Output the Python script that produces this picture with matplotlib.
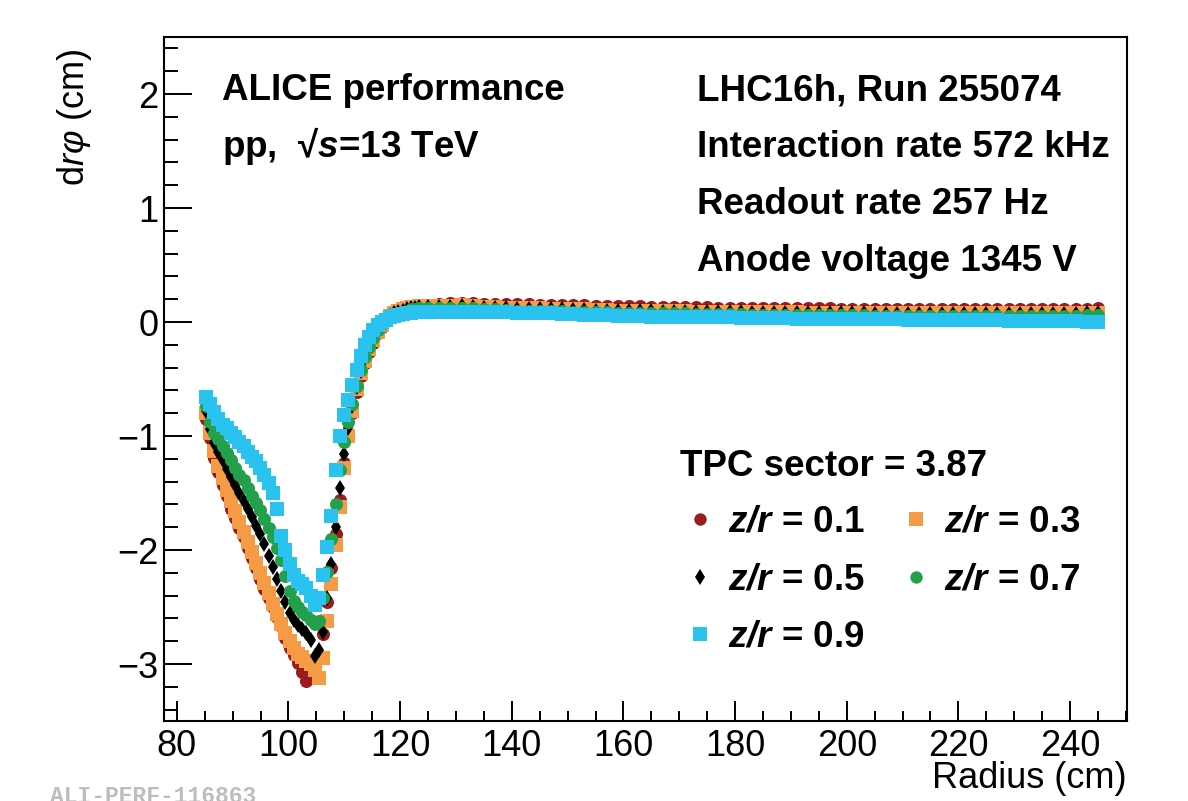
# ALICE TPC distortion: d(r phi) vs radius for several z/r slices

import matplotlib
matplotlib.use('Agg')
import matplotlib.pyplot as plt
from matplotlib.ticker import MultipleLocator

plt.rcParams['font.family'] = 'Liberation Sans'
plt.rcParams['mathtext.fontset'] = 'custom'
plt.rcParams['mathtext.rm'] = 'Liberation Sans'
plt.rcParams['mathtext.it'] = 'Liberation Sans:italic'
plt.rcParams['mathtext.bf'] = 'Liberation Sans:bold'
plt.rcParams['mathtext.bfit'] = 'Liberation Sans:italic:bold'

# ----------------------------
# Data
# ----------------------------
# inner chamber: dense pad rows, outer part: coarser sampling
radius = [
    85.20, 85.95, 86.70, 87.45, 88.20, 88.95, 89.70, 90.45, 91.20, 91.95,
    92.70, 93.45, 94.20, 94.95, 95.70, 96.45, 97.20, 97.95, 98.70, 99.45,
    100.20, 100.95, 101.70, 102.45, 103.20, 103.95, 104.70, 105.45, 106.20, 106.95,
    107.70, 108.45, 109.20, 109.95, 110.70, 111.45, 112.20, 112.95, 113.70, 114.45,
    115.20, 115.95, 116.70, 117.45, 118.20, 118.95, 119.70, 120.45, 121.20, 121.95,
    122.70, 123.45,
    125, 127, 129, 131, 133, 135, 137, 139, 141, 143,
    145, 147, 149, 151, 153, 155, 157, 159, 161, 163,
    165, 167, 169, 171, 173, 175, 177, 179, 181, 183,
    185, 187, 189, 191, 193, 195, 197, 199, 201, 203,
    205, 207, 209, 211, 213, 215, 217, 219, 221, 223,
    225, 227, 229, 231, 233, 235, 237, 239, 241, 243,
    245,
]

drphi_01 = [
    -0.85, -1.02, -1.19, -1.32, -1.43, -1.53, -1.64, -1.72, -1.81, -1.89,
    -1.98, -2.07, -2.16, -2.25, -2.34, -2.42, -2.50, -2.59, -2.67, -2.77,
    -2.86, -2.92, -2.99, -3.07, -3.15, -3.12, -3.04, -2.92, -2.74, -2.46,
    -2.16, -1.86, -1.56, -1.24, -1.00, -0.80, -0.61, -0.47, -0.36, -0.26,
    -0.18, -0.10, -0.04, 0.02, 0.06, 0.08, 0.10, 0.11, 0.12, 0.13,
    0.14, 0.14,
    0.15, 0.16, 0.17, 0.17, 0.17, 0.16, 0.16, 0.16, 0.155, 0.155,
    0.15, 0.15, 0.15, 0.145, 0.145, 0.14, 0.14, 0.14, 0.14, 0.14,
    0.135, 0.135, 0.13, 0.13, 0.13, 0.13, 0.125, 0.125, 0.125, 0.125,
    0.125, 0.12, 0.12, 0.12, 0.12, 0.12, 0.12, 0.115, 0.115, 0.115,
    0.115, 0.11, 0.11, 0.11, 0.11, 0.11, 0.11, 0.11, 0.11, 0.11,
    0.11, 0.11, 0.11, 0.11, 0.11, 0.11, 0.11, 0.11, 0.11, 0.115,
    0.125,
]

drphi_03 = [
    -0.80, -0.97, -1.13, -1.26, -1.37, -1.47, -1.57, -1.66, -1.75, -1.84,
    -1.93, -2.02, -2.11, -2.20, -2.29, -2.38, -2.47, -2.56, -2.65, -2.73,
    -2.80, -2.86, -2.91, -2.94, -2.97, -3.00, -3.05, -3.12, -2.95, -2.62,
    -2.30, -1.96, -1.62, -1.28, -1.00, -0.78, -0.59, -0.45, -0.34, -0.24,
    -0.16, -0.09, -0.03, 0.02, 0.05, 0.08, 0.10, 0.11, 0.12, 0.13,
    0.13, 0.14,
    0.14, 0.14, 0.14, 0.145, 0.14, 0.13, 0.13, 0.125, 0.12, 0.12,
    0.12, 0.115, 0.115, 0.11, 0.11, 0.105, 0.105, 0.10, 0.10, 0.10,
    0.10, 0.095, 0.095, 0.095, 0.09, 0.09, 0.09, 0.09, 0.09, 0.085,
    0.085, 0.085, 0.085, 0.085, 0.08, 0.08, 0.08, 0.08, 0.08, 0.08,
    0.075, 0.075, 0.075, 0.075, 0.075, 0.075, 0.075, 0.075, 0.075, 0.075,
    0.075, 0.075, 0.075, 0.075, 0.075, 0.075, 0.075, 0.075, 0.075, 0.08,
    0.08,
]

drphi_05 = [
    -0.78, -0.94, -1.06, -1.14, -1.21, -1.29, -1.36, -1.43, -1.50, -1.57,
    -1.64, -1.71, -1.79, -1.86, -1.95, -2.05, -2.15, -2.25, -2.36, -2.46,
    -2.55, -2.61, -2.66, -2.69, -2.73, -2.79, -2.93, -2.88, -2.72, -2.42,
    -2.12, -1.80, -1.46, -1.16, -0.93, -0.74, -0.57, -0.43, -0.32, -0.23,
    -0.15, -0.08, -0.02, 0.02, 0.05, 0.08, 0.09, 0.10, 0.11, 0.12,
    0.12, 0.13,
    0.135, 0.135, 0.135, 0.14, 0.135, 0.125, 0.125, 0.12, 0.115, 0.115,
    0.115, 0.11, 0.11, 0.105, 0.105, 0.10, 0.10, 0.095, 0.095, 0.095,
    0.095, 0.09, 0.09, 0.09, 0.085, 0.085, 0.085, 0.085, 0.085, 0.08,
    0.08, 0.08, 0.08, 0.08, 0.075, 0.075, 0.075, 0.075, 0.075, 0.075,
    0.07, 0.07, 0.07, 0.07, 0.07, 0.07, 0.07, 0.07, 0.07, 0.07,
    0.07, 0.07, 0.07, 0.07, 0.07, 0.07, 0.07, 0.07, 0.07, 0.075,
    0.075,
]

drphi_07 = [
    -0.74, -0.88, -0.97, -1.03, -1.09, -1.15, -1.21, -1.28, -1.34, -1.39,
    -1.46, -1.53, -1.59, -1.65, -1.73, -1.81, -1.89, -1.98, -2.09, -2.23,
    -2.36, -2.45, -2.50, -2.54, -2.57, -2.61, -2.65, -2.62, -2.42, -2.19,
    -1.90, -1.60, -1.30, -1.05, -0.88, -0.72, -0.56, -0.42, -0.31, -0.22,
    -0.14, -0.07, -0.02, 0.02, 0.05, 0.07, 0.08, 0.09, 0.10, 0.11,
    0.11, 0.12,
    0.12, 0.12, 0.12, 0.125, 0.12, 0.11, 0.11, 0.105, 0.10, 0.10,
    0.10, 0.095, 0.095, 0.09, 0.09, 0.085, 0.085, 0.08, 0.08, 0.08,
    0.08, 0.075, 0.075, 0.075, 0.07, 0.07, 0.07, 0.07, 0.07, 0.065,
    0.065, 0.065, 0.065, 0.065, 0.06, 0.06, 0.06, 0.06, 0.06, 0.06,
    0.055, 0.055, 0.055, 0.055, 0.055, 0.055, 0.055, 0.055, 0.055, 0.055,
    0.055, 0.055, 0.055, 0.055, 0.055, 0.055, 0.055, 0.055, 0.055, 0.06,
    0.06,
]

drphi_09 = [
    -0.66, -0.72, -0.79, -0.85, -0.90, -0.93, -0.97, -1.01, -1.05, -1.09,
    -1.14, -1.18, -1.22, -1.28, -1.34, -1.41, -1.50, -1.64, -1.88, -2.00,
    -2.12, -2.22, -2.27, -2.30, -2.33, -2.40, -2.48, -2.42, -2.22, -1.97,
    -1.70, -1.30, -1.00, -0.82, -0.68, -0.55, -0.42, -0.30, -0.20, -0.13,
    -0.07, -0.03, 0.00, 0.02, 0.04, 0.05, 0.06, 0.07, 0.08, 0.08,
    0.09, 0.09,
    0.09, 0.09, 0.09, 0.09, 0.09, 0.085, 0.085, 0.085, 0.08, 0.08,
    0.075, 0.075, 0.07, 0.07, 0.065, 0.06, 0.06, 0.055, 0.05, 0.05,
    0.045, 0.045, 0.045, 0.04, 0.04, 0.04, 0.04, 0.04, 0.035, 0.035,
    0.035, 0.035, 0.035, 0.03, 0.03, 0.03, 0.03, 0.03, 0.03, 0.025,
    0.025, 0.025, 0.025, 0.02, 0.02, 0.02, 0.02, 0.02, 0.015, 0.015,
    0.015, 0.015, 0.01, 0.01, 0.01, 0.01, 0.005, 0.005, 0.005, 0.0,
    0.0,
]

series_labels = ['0.1', '0.3', '0.5', '0.7', '0.9']
series_values = [drphi_01, drphi_03, drphi_05, drphi_07, drphi_09]
series_colors = ['#9b1b1e', '#f59a45', '#000000', '#22a04b', '#2ac3f0']
series_markers = ['o', 's', 'd', 'o', 's']
series_sizes = [9.4, 10.0, 8.2, 9.4, 10.0]

info_left = ['ALICE performance', r'pp,  √$\mathbfit{s}$=13 TeV']
info_right = ['LHC16h, Run 255074', 'Interaction rate 572 kHz',
              'Readout rate 257 Hz', 'Anode voltage 1345 V']
legend_title = 'TPC sector = 3.87'

# ----------------------------
# Figure
# ----------------------------
W, H = 1188, 801
fig = plt.figure(figsize=(W / 100, H / 100), dpi=100)
ax = fig.add_axes([164 / W, 1 - 721 / H, (1127 - 164) / W, (721 - 37) / H])

handles = []
for lab, vals, col, mk, ms in zip(series_labels, series_values, series_colors,
                                  series_markers, series_sizes):
    h, = ax.plot(radius, vals, linestyle='none', marker=mk, markersize=ms,
                 color=col, markeredgewidth=0, label=r'$\mathbfit{z/r}$ = ' + lab)
    handles.append(h)

ax.set_xlim(77.7, 250.2)
ax.set_ylim(-3.5, 2.5)
ax.xaxis.set_major_locator(MultipleLocator(20))
ax.xaxis.set_minor_locator(MultipleLocator(5))
ax.yaxis.set_major_locator(MultipleLocator(1))
ax.yaxis.set_minor_locator(MultipleLocator(0.2))

ax.tick_params(which='both', direction='in', top=False, right=False, width=1.4)
ax.tick_params(axis='x', which='major', length=14.4, labelsize=26, pad=6)
ax.tick_params(axis='x', which='minor', length=7.2)
ax.tick_params(axis='y', which='major', length=20, labelsize=26, pad=4)
ax.tick_params(axis='y', which='minor', length=10)
for sp in ax.spines.values():
    sp.set_linewidth(1.5)

# axis titles
fig.text(1127 / W, 1 - 779 / H, 'Radius (cm)', fontsize=26, ha='right', va='center')
fig.text(75 / W, 1 - 48 / H, r'd$\mathit{rφ}$ (cm)', fontsize=26,
         rotation=90, ha='center', va='top')

# info texts
for i, t in enumerate(info_left):
    fig.text(222 / W, 1 - (100 + 57 * i) / H, t, fontsize=26.5,
             fontweight='bold', va='baseline')
for i, t in enumerate(info_right):
    fig.text(697 / W, 1 - (100 + 57 * i) / H, t, fontsize=26.5,
             fontweight='bold', va='baseline')

fig.text(680 / W, 1 - 476 / H, legend_title, fontsize=26.5,
         fontweight='bold', va='baseline')

# legend in ROOT order: rows (0.1, 0.3), (0.5, 0.7), (0.9)
order = [0, 2, 4, 1, 3]
leg = ax.legend([handles[i] for i in order],
                [handles[i].get_label() for i in order],
                ncol=2, frameon=False, loc='upper left',
                bbox_to_anchor=(689 / W, 1 - 505 / H),
                bbox_transform=fig.transFigure, borderaxespad=0, borderpad=0,
                prop={'size': 26.5, 'weight': 'bold'},
                handlelength=0.6, handletextpad=0.45, columnspacing=1.09,
                labelspacing=0.61, markerscale=0.95)

fig.text(50 / W, 1 - 803 / H, 'ALI-PERF-116863', fontsize=16.6,
         family='Liberation Mono', fontweight='bold', color='#bdbdbd',
         va='baseline')

fig.savefig('out.png', dpi=100)
